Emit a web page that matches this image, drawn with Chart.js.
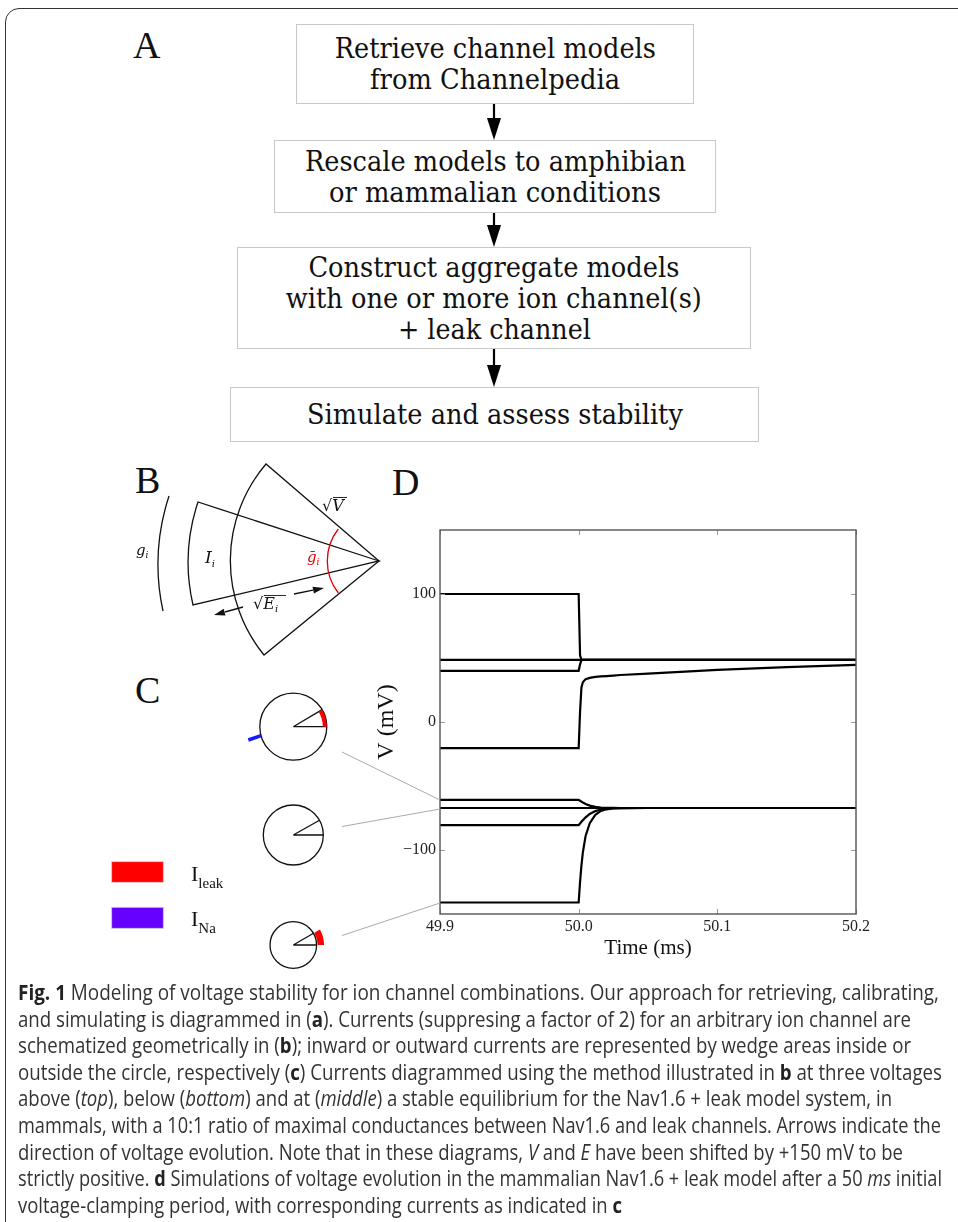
<!DOCTYPE html>
<html>
<head>
<meta charset="utf-8">
<script src="https://cdn.jsdelivr.net/npm/chart.js@4.4.1/dist/chart.umd.min.js"></script>
<style>
  html, body { margin: 0; padding: 0; background: #fff; }
  body { width: 958px; height: 1222px; position: relative; overflow: hidden; }
  .frame { position: absolute; left: 5px; top: 8px; width: 1000px; height: 1300px;
           border: 1.6px solid #333; border-radius: 14px; box-sizing: border-box; }
  .panel { position: absolute; font-family: "Liberation Serif", "Times New Roman", serif;
           font-size: 38px; line-height: 38px; color: #111; }
  .box { position: absolute; border: 1px solid #c8c8c8; box-sizing: border-box; display: flex;
         flex-direction: column; justify-content: center; align-items: center;
         font-family: "DejaVu Serif", serif; font-size: 27px; line-height: 31px; color: #111; }
  .box span { display: block; white-space: nowrap; transform-origin: 50% 50%; }
  .caption { position: absolute; left: 18px; top: 979px; color: #333;
             font-family: "Liberation Sans Narrow", "Open Sans", sans-serif; font-size: 21px; line-height: 26.6px; }
  .caption div { white-space: nowrap; width: max-content; transform-origin: 0 50%; }
  .caption b { color: #222; }
  #chartBox { position: absolute; left: 370px; top: 500px; width: 510px; height: 470px; }
  svg.overlay { position: absolute; left: 0; top: 0; }
</style>
</head>
<body>
<div class="frame"></div>

<div class="panel" style="left:133px;top:26px;">A</div>
<div class="panel" style="left:135px;top:461px;">B</div>
<div class="panel" style="left:135px;top:671px;">C</div>
<div class="panel" style="left:392px;top:463px;">D</div>

<!-- flowchart -->
<div class="box" style="left:296px;top:24px;width:398px;height:80px;">
  <span data-w="321">Retrieve channel models</span>
  <span data-w="250">from Channelpedia</span>
</div>
<div class="box" style="left:274px;top:140px;width:442px;height:73px;">
  <span data-w="381">Rescale models to amphibian</span>
  <span data-w="332">or mammalian conditions</span>
</div>
<div class="box" style="left:237px;top:247px;width:514px;height:102px;">
  <span data-w="371">Construct aggregate models</span>
  <span data-w="416">with one or more ion channel(s)</span>
  <span data-w="193">+ leak channel</span>
</div>
<div class="box" style="left:230px;top:387px;width:529px;height:55px;">
  <span data-w="376">Simulate and assess stability</span>
</div>

<div id="chartBox"><canvas id="voltage-chart" width="510" height="470"></canvas></div>

<svg class="overlay" width="958" height="1222" viewBox="0 0 958 1222">
  <!-- flowchart arrows -->
  <g stroke="#000" stroke-width="2.2" fill="#000">
    <line x1="494" y1="104" x2="494" y2="120"/>
    <polygon stroke="none" points="487,118 501,118 494,140"/>
    <line x1="494" y1="213" x2="494" y2="227"/>
    <polygon stroke="none" points="487,225 501,225 494,247"/>
    <line x1="494" y1="349" x2="494" y2="367"/>
    <polygon stroke="none" points="487,365 501,365 494,387"/>
  </g>

  <!-- panel B -->
  <g fill="none" stroke="#111" stroke-width="1.3">
    <path d="M379 561 L266 464 A149 149 0 0 0 264 655 Z"/>
    <path d="M379 561 L198 502 A190 190 0 0 0 193 605 Z"/>
    <path d="M169 496 A220 220 0 0 0 163 611"/>
    <path d="M338.3 529 A52 52 0 0 0 338.3 593" stroke="#e60000"/>
    <line x1="243" y1="607" x2="225" y2="612"/>
    <line x1="294" y1="594" x2="313" y2="590.2"/>
    <line x1="333" y1="497.5" x2="347" y2="497.5" stroke-width="0.9"/>
    <line x1="264" y1="595.5" x2="286" y2="595.5" stroke-width="0.9"/>
  </g>
  <polygon fill="#111" points="214,615 225.5,615.5 223.7,608.7"/>
  <polygon fill="#111" points="324,588 313.9,593.6 312.5,586.8"/>
  <g font-family="'DejaVu Serif', serif" fill="#111">
    <text x="322" y="511" font-size="16">√<tspan font-style="italic">V</tspan></text>
    <text x="136" y="555" font-size="15" font-style="italic">g<tspan font-size="9" dy="3">i</tspan></text>
    <text x="205" y="563" font-size="17" font-style="italic">I<tspan font-size="10" dy="4">i</tspan></text>
    <text x="307" y="562" font-size="15" font-style="italic" fill="#e60000">ḡ<tspan font-size="9" dy="3">i</tspan></text>
    <text x="253" y="609" font-size="16">√<tspan font-style="italic">E</tspan><tspan font-size="10" font-style="italic" dy="3">i</tspan></text>
  </g>

  <!-- panel C -->
  <g fill="none" stroke="#111" stroke-width="1.3">
    <circle cx="293.3" cy="726.7" r="33.5"/>
    <path d="M293.3 726.7 L326.8 726.7 M293.3 726.7 L322.1 709.6"/>
    <circle cx="293.3" cy="835" r="30"/>
    <path d="M293.3 835 L323.3 835 M293.3 835 L319.5 820.3"/>
    <circle cx="293.3" cy="945" r="23.3"/>
    <path d="M293.3 945 L316.6 945 M293.3 945 L313.5 933.3"/>
  </g>
  <path d="M324.8 726.7 A31.5 31.5 0 0 0 320.4 710.7" fill="none" stroke="#ff0000" stroke-width="4"/>
  <line x1="261" y1="735.7" x2="248.3" y2="740" stroke="#1a1aff" stroke-width="3.5"/>
  <path d="M320.8 945 A27.5 27.5 0 0 0 317.1 931.2" fill="none" stroke="#ff0000" stroke-width="6.5"/>

  <!-- connectors from C to D -->
  <g stroke="#aaa" stroke-width="1">
    <line x1="342" y1="752" x2="440" y2="800"/>
    <line x1="342" y1="826.5" x2="440" y2="809"/>
    <line x1="342" y1="935.5" x2="440" y2="903"/>
  </g>

  <!-- legend -->
  <rect x="111.7" y="861.7" width="51.6" height="20.6" fill="#ff0000" stroke="#ccc" stroke-width="0.8"/>
  <rect x="111.7" y="907.3" width="51.6" height="21" fill="#6600ff" stroke="#ccc" stroke-width="0.8"/>
  <g font-family="'Liberation Serif', serif" fill="#111">
    <text x="191" y="881" font-size="22">I<tspan font-size="15" dy="7">leak</tspan></text>
    <text x="191" y="926" font-size="22">I<tspan font-size="15" dy="7">Na</tspan></text>
  </g>
</svg>

<div class="caption">
  <div data-w="921"><b>Fig. 1</b> Modeling of voltage stability for ion channel combinations. Our approach for retrieving, calibrating,</div>
  <div data-w="893">and simulating is diagrammed in (<b>a</b>). Currents (suppresing a factor of 2) for an arbitrary ion channel are</div>
  <div data-w="893">schematized geometrically in (<b>b</b>); inward or outward currents are represented by wedge areas inside or</div>
  <div data-w="924">outside the circle, respectively (<b>c</b>) Currents diagrammed using the method illustrated in <b>b</b> at three voltages</div>
  <div data-w="874">above (<i>top</i>), below (<i>bottom</i>) and at (<i>middle</i>) a stable equilibrium for the Nav1.6 + leak model system, in</div>
  <div data-w="923">mammals, with a 10:1 ratio of maximal conductances between Nav1.6 and leak channels. Arrows indicate the</div>
  <div data-w="885">direction of voltage evolution. Note that in these diagrams, <i>V</i> and <i>E</i> have been shifted by +150 mV to be</div>
  <div data-w="924">strictly positive. <b>d</b> Simulations of voltage evolution in the mammalian Nav1.6 + leak model after a 50 <i>ms</i> initial</div>
  <div data-w="604">voltage-clamping period, with corresponding currents as indicated in <b>c</b></div>
</div>

<script>
// Data - voltage traces (mV) sampled at shared times (ms)
const timeMs = [49.9, 50.0, 50.001, 50.002, 50.003, 50.005, 50.008, 50.012, 50.016, 50.02, 50.025, 50.03, 50.05, 50.1, 50.15, 50.2];

const vFrom100   = [100, 100, 52, 48.8, 48.6, 48.6, 48.6, 48.6, 48.6, 48.6, 48.6, 48.6, 48.6, 48.6, 48.6, 48.6];
const vUpperFix  = [48.6, 48.6, 48.6, 48.6, 48.6, 48.6, 48.6, 48.6, 48.6, 48.6, 48.6, 48.6, 48.6, 48.6, 48.6, 48.6];
const vFrom40    = [40, 40, 45, 48.3, 48.6, 48.6, 48.6, 48.6, 48.6, 48.6, 48.6, 48.6, 48.6, 48.6, 48.6, 48.6];
const vFromM20   = [-20.4, -20.4, 8, 27, 31, 33.5, 34.5, 35.2, 35.6, 35.9, 36.3, 36.7, 37.8, 40.7, 42.9, 44.7];
const vFromM61   = [-60.9, -60.9, -61.5, -62.2, -62.9, -64, -65.3, -66.3, -66.8, -67, -67.15, -67.2, -67.2, -67.2, -67.2, -67.2];
const vRest      = [-67.2, -67.2, -67.2, -67.2, -67.2, -67.2, -67.2, -67.2, -67.2, -67.2, -67.2, -67.2, -67.2, -67.2, -67.2, -67.2];
const vFromM80   = [-80.5, -80.5, -79.3, -78, -76.8, -74.5, -71.8, -69.6, -68.4, -67.8, -67.4, -67.25, -67.2, -67.2, -67.2, -67.2];
const vFromM141  = [-141, -141, -125, -112, -102, -89, -79, -72.5, -69.5, -68.2, -67.5, -67.3, -67.2, -67.2, -67.2, -67.2];

const traces = [vFrom100, vUpperFix, vFrom40, vFromM20, vFromM61, vRest, vFromM80, vFromM141];

const xTicks = [49.9, 50.0, 50.1, 50.2];
const yTicks = [-100, 0, 100];

const serif = "'Liberation Serif', 'Times New Roman', serif";

// frame + inward tick marks on all four sides, like the matplotlib original
const frameAndTicks = {
  id: "frameAndTicks",
  afterDatasetsDraw(chart) {
    const { ctx, chartArea: a, scales: { x, y } } = chart;
    ctx.save();
    ctx.strokeStyle = "#999";
    ctx.lineWidth = 1;
    ctx.beginPath();
    x.ticks.forEach(t => {
      const px = Math.round(x.getPixelForValue(t.value)) + 0.5;
      ctx.moveTo(px, a.top); ctx.lineTo(px, a.top + 5);
      ctx.moveTo(px, a.bottom); ctx.lineTo(px, a.bottom - 5);
    });
    y.ticks.forEach(t => {
      const py = Math.round(y.getPixelForValue(t.value)) + 0.5;
      ctx.moveTo(a.left, py); ctx.lineTo(a.left + 5, py);
      ctx.moveTo(a.right, py); ctx.lineTo(a.right - 5, py);
    });
    ctx.stroke();
    ctx.strokeStyle = "#555";
    ctx.lineWidth = 1.4;
    ctx.strokeRect(a.left, a.top, a.right - a.left, a.bottom - a.top);
    ctx.restore();
  }
};

const ctx = document.getElementById("voltage-chart").getContext("2d");
const voltageChart = new Chart(ctx, {
  type: "line",
  data: {
    datasets: traces.map(v => ({
      data: timeMs.map((t, i) => ({ x: t, y: v[i] })),
      borderColor: "#000",
      borderWidth: 2.2,
      pointRadius: 0,
      tension: 0,
      fill: false
    }))
  },
  options: {
    responsive: false,
    animation: false,
    layout: { padding: { top: 30, right: 24, left: 0, bottom: 0 } },
    plugins: { legend: { display: false }, tooltip: { enabled: false } },
    scales: {
      x: {
        type: "linear",
        min: 49.9,
        max: 50.2,
        grid: { display: false, drawTicks: false },
        border: { display: false },
        afterBuildTicks: s => { s.ticks = xTicks.map(v => ({ value: v })); },
        afterFit: s => { s.height = 56; },
        ticks: {
          font: { family: serif, size: 16 },
          color: "#222",
          padding: 3,
          maxRotation: 0,
          autoSkip: false,
          callback: v => Number(v).toFixed(1)
        },
        title: {
          display: true,
          text: "Time (ms)",
          font: { family: serif, size: 21 },
          color: "#111",
          padding: { top: 0, bottom: 9.4 }
        }
      },
      y: {
        min: -150,
        max: 150,
        grid: { display: false, drawTicks: false },
        border: { display: false },
        afterBuildTicks: s => { s.ticks = yTicks.map(v => ({ value: v })); },
        afterFit: s => { s.width = 70; },
        ticks: {
          font: { family: serif, size: 16 },
          color: "#222",
          padding: 4,
          callback: v => (v < 0 ? "\u2212" + Math.abs(v) : String(v))
        },
        title: {
          display: true,
          text: "V (mV)",
          font: { family: serif, size: 24 },
          color: "#111",
          padding: { top: 2.6, bottom: 0 }
        }
      }
    }
  },
  plugins: [frameAndTicks]
});

// squeeze text lines to the widths measured on the original figure
function fitText() {
  document.querySelectorAll("[data-w]").forEach(el => {
    const w = el.getBoundingClientRect().width;
    if (w > 0) el.style.transform = "scaleX(" + (parseFloat(el.dataset.w) / w) + ")";
  });
}
document.fonts.ready.then(fitText);
</script>
</body>
</html>
